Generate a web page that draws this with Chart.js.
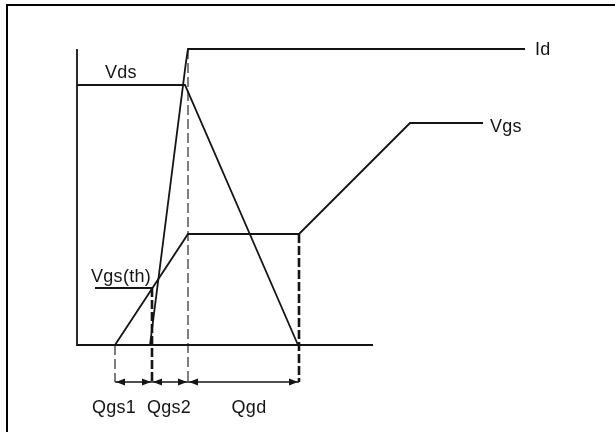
<!DOCTYPE html>
<html>
<head>
<meta charset="utf-8">
<script src="https://cdn.jsdelivr.net/npm/chart.js@4/dist/chart.umd.min.js"></script>
<style>
  html, body { margin: 0; padding: 0; background: #fff; }
  #wrap { width: 615px; height: 432px; }
</style>
</head>
<body>
<div id="wrap"><canvas id="gate" width="615" height="432"></canvas></div>
<script>
// gate charge waveform, x = gate charge, y = level (arbitrary units)
const axisQ = [0, 0, 29.6];
const axisV = [29.6, 0, 0];

const vdsQ = [0, 10.8, 22.1];
const vdsV = [26, 26, 0];

const idQ = [7.3, 10.9, 11.1, 44.8];
const idV = [0, 28.3, 29.6, 29.6];

const vgsQ = [3.8, 11.1, 22.2, 33.3, 40.6];
const vgsV = [0, 11.1, 11.1, 22.2, 22.2];

const vthQ = [1.8, 7.5];
const vthV = [5.7, 5.7];

// charge boundaries and how high each marker line reaches
const markQ = [3.8, 7.5, 11.1, 22.2];
const markTop = [0, 5.7, 29.6, 11.1];
const markBold = [false, true, false, true];
const markBottom = -3.7;

const qLabels = ['Qgs1', 'Qgs2', 'Qgd'];
const qLabelQ = [3.7, 9.2, 17.2];

const toPts = (xs, ys) => xs.map((x, i) => ({ x, y: ys[i] }));

const INK = '#141414';
const line = (data, extra) => Object.assign({
  data, showLine: true, pointRadius: 0, borderColor: INK, borderWidth: 1.8, tension: 0, fill: false
}, extra || {});

const datasets = [
  line(toPts(axisQ, axisV)),
  line(toPts(vdsQ, vdsV)),
  line(toPts(idQ, idV)),
  line(toPts(vgsQ, vgsV)),
  line(toPts(vthQ, vthV))
];

markQ.forEach((q, i) => {
  datasets.push(line(toPts([q, q], [markTop[i], markBottom]), {
    borderWidth: markBold[i] ? 2.6 : 1.1,
    borderDash: markBold[i] ? [9, 3] : [10, 4]
  }));
});

for (let i = 0; i < markQ.length - 1; i++) {
  datasets.push(line(toPts([markQ[i], markQ[i + 1]], [markBottom, markBottom]), { borderWidth: 1.3 }));
}

// texts: [text, q, v]
const texts = [
  ['Vds', 2.8, 26.7],
  ['Id', 45.8, 29.0],
  ['Vgs', 41.3, 21.3],
  ['Vgs(th)', 1.4, 6.3]
];

const decor = {
  id: 'decor',
  beforeDraw(chart) {
    const ctx = chart.ctx;
    ctx.save();
    ctx.fillStyle = '#000';
    ctx.fillRect(6, 4, chart.width - 6, 2);
    ctx.fillRect(6, 4, 2, chart.height - 4);
    ctx.restore();
  },
  afterDatasetsDraw(chart) {
    const ctx = chart.ctx;
    const xs = chart.scales.x, ys = chart.scales.y;
    ctx.save();
    ctx.fillStyle = INK;
    // arrow heads at both ends of every charge span
    const yb = ys.getPixelForValue(markBottom);
    const head = (tipX, dir) => {
      ctx.beginPath();
      ctx.moveTo(tipX, yb);
      ctx.lineTo(tipX + dir * 9, yb - 3.5);
      ctx.lineTo(tipX + dir * 9, yb + 3.5);
      ctx.closePath();
      ctx.fill();
    };
    for (let i = 0; i < markQ.length - 1; i++) {
      const a = xs.getPixelForValue(markQ[i]);
      const b = xs.getPixelForValue(markQ[i + 1]);
      head(a + 1, 1);
      head(b - 1, -1);
    }
    ctx.font = '18px "Liberation Sans", Arial, sans-serif';
    ctx.letterSpacing = '0.3px';
    ctx.textBaseline = 'alphabetic';
    ctx.textAlign = 'left';
    texts.forEach(([t, q, v]) => {
      ctx.fillText(t, xs.getPixelForValue(q), ys.getPixelForValue(v));
    });
    qLabels.forEach((t, i) => {
      ctx.fillText(t, xs.getPixelForValue(qLabelQ[i]) - ctx.measureText(t).width / 2, ys.getPixelForValue(-6.8));
    });
    ctx.restore();
  }
};

new Chart(document.getElementById('gate'), {
  type: 'scatter',
  data: { datasets },
  options: {
    responsive: false,
    animation: false,
    layout: { padding: 0 },
    plugins: { legend: { display: false }, tooltip: { enabled: false } },
    scales: {
      x: { type: 'linear', display: false, min: -7.7, max: 53.8 },
      y: { type: 'linear', display: false, min: -8.7, max: 34.5 }
    }
  },
  plugins: [decor]
});
</script>
</body>
</html>
